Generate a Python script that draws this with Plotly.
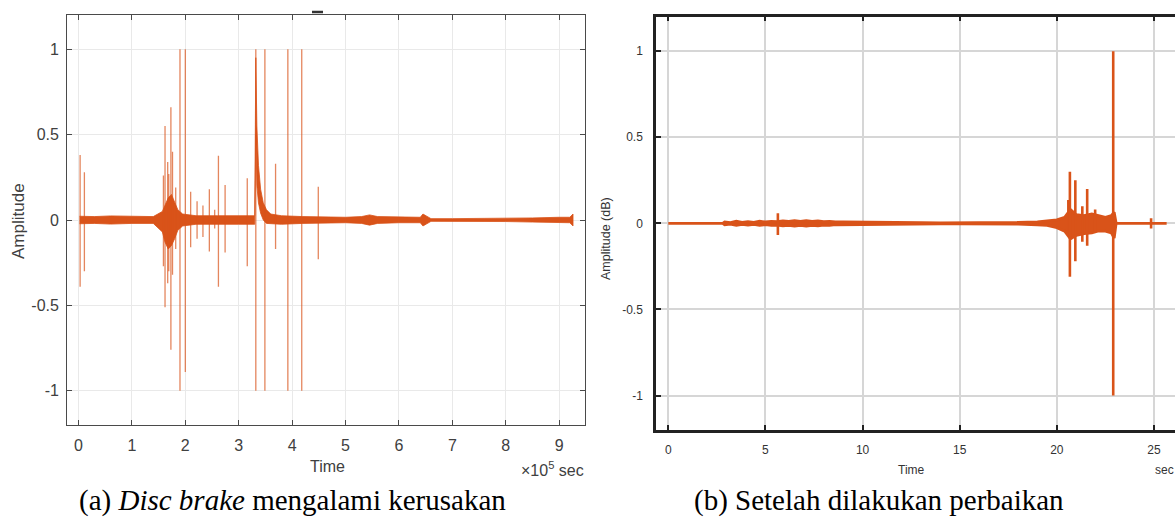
import plotly.graph_objects as go

W, H = 1175, 517

# ---------------- Panel (a): disc brake damaged (time in x10^5 sec) ----------------
spike_a_x   = [0.03, 0.11, 1.59, 1.62, 1.67, 1.69, 1.73, 1.76, 1.82, 1.90, 2.00, 2.10, 2.22, 2.33,
               2.45, 2.55, 2.62, 2.745, 3.16, 3.32, 3.49, 3.69, 3.92, 4.18, 4.49]
spike_a_top = [0.38, 0.28, 0.26, 0.55, 0.34, 0.27, 0.66, 0.40, 0.19, 1.0, 1.0, 0.165, 0.11, 0.085,
               0.18, 0.06, 0.376, 0.205, 0.244, 1.0, 1.0, 0.33, 1.0, 1.0, 0.195]
spike_a_bot = [-0.39, -0.30, -0.27, -0.51, -0.37, -0.30, -0.76, -0.32, -0.17, -1.0, -0.89, -0.16, -0.11, -0.10,
               -0.185, -0.05, -0.39, -0.19, -0.27, -1.0, -1.0, -0.17, -1.0, -1.0, -0.23]

band_a_x  = [0.02, 0.3, 0.6, 1.0, 1.4, 1.57, 1.62, 1.68, 1.74, 1.80, 1.86, 1.95, 2.2, 2.6, 3.0, 3.30,
             3.32, 3.34, 3.37, 3.41, 3.46, 3.52, 3.60, 3.8, 4.2, 4.6, 5.0, 5.3, 5.45, 5.6, 6.0, 6.4,
             6.45, 6.6, 7.0, 7.5, 8.0, 8.5, 9.0, 9.2, 9.26]
band_a_hi = [0.022, 0.02, 0.024, 0.02, 0.02, 0.05, 0.09, 0.13, 0.15, 0.11, 0.06, 0.035, 0.025, 0.025, 0.025, 0.025,
             0.95, 0.55, 0.32, 0.18, 0.10, 0.06, 0.035, 0.025, 0.02, 0.016, 0.016, 0.02, 0.03, 0.02, 0.016, 0.016,
             0.035, 0.008, 0.008, 0.008, 0.009, 0.012, 0.016, 0.016, 0.035]
band_a_lo = [-0.022, -0.02, -0.024, -0.02, -0.02, -0.07, -0.13, -0.17, -0.15, -0.11, -0.06, -0.035, -0.025, -0.025, -0.025, -0.025,
             0.5, 0.2, 0.10, 0.04, 0.0, -0.02, -0.02, -0.025, -0.02, -0.016, -0.016, -0.02, -0.03, -0.02, -0.016, -0.016,
             -0.035, -0.008, -0.008, -0.008, -0.009, -0.012, -0.016, -0.016, -0.035]

a_xticks = [0, 1, 2, 3, 4, 5, 6, 7, 8, 9]
a_yticks = [-1, -0.5, 0, 0.5, 1]
a_yticklabels = ["-1", "-0.5", "0", "0.5", "1"]

# ---------------- Panel (b): after repair (time in sec) ----------------
spike_b_x   = [5.64, 20.59, 20.67, 20.95, 21.31, 21.56, 21.97, 22.9, 24.85]
spike_b_top = [0.058, 0.135, 0.30, 0.25, 0.10, 0.20, 0.08, 1.0, 0.03]
spike_b_bot = [-0.068, -0.05, -0.31, -0.22, -0.107, -0.13, -0.05, -1.0, -0.03]

band_b_x  = [0.0, 2.8, 2.9, 3.2, 3.5, 3.8, 4.1, 4.4, 4.7, 5.0, 5.3, 5.6, 5.9, 6.2, 6.5, 6.8, 7.1, 7.4, 7.7,
             8.0, 8.3, 8.6, 9.0, 10, 11, 12, 13, 14, 15, 16, 17, 18, 19, 19.5, 20.0, 20.4, 20.7, 21.0, 21.4,
             21.8, 22.1, 22.5, 22.8, 22.95, 23.05, 24.8, 25.65]
band_b_hi = [0.0, 0.0, 0.008, 0.004, 0.012, 0.006, 0.01, 0.006, 0.012, 0.008, 0.012, 0.01, 0.014, 0.012, 0.016,
             0.012, 0.016, 0.012, 0.014, 0.01, 0.012, 0.008, 0.008, 0.006, 0.004, 0.003, 0.004, 0.003, 0.003,
             0.003, 0.003, 0.005, 0.008, 0.012, 0.02, 0.035, 0.08, 0.05, 0.045, 0.055, 0.045, 0.035, 0.045,
             0.065, 0.0, 0.0, 0.0]
band_b_lo = [0.0, 0.0, -0.008, -0.004, -0.012, -0.006, -0.01, -0.006, -0.012, -0.008, -0.012, -0.01, -0.014, -0.012, -0.016,
             -0.012, -0.016, -0.012, -0.014, -0.01, -0.012, -0.008, -0.008, -0.006, -0.004, -0.003, -0.004, -0.003, -0.003,
             -0.003, -0.003, -0.005, -0.008, -0.012, -0.025, -0.045, -0.09, -0.07, -0.06, -0.055, -0.045, -0.045, -0.055,
             -0.085, 0.0, 0.0, 0.0]

b_xticks = [0, 5, 10, 15, 20, 25]
b_yticks = [-1, -0.5, 0, 0.5, 1]
b_yticklabels = ["-1", "-0.5", "0", "0.5", "1"]

ORANGE = "#D95319"


def spikes(xs, tops, bots):
    px, py = [], []
    for x, t, b in zip(xs, tops, bots):
        px += [x, x, None]
        py += [t, b, None]
    return px, py


fig = go.Figure()

# Panel (a)
fig.add_trace(go.Scatter(x=band_a_x + band_a_x[::-1], y=band_a_hi + band_a_lo[::-1],
                         fill="toself", fillcolor=ORANGE, line=dict(color=ORANGE, width=0.8),
                         mode="lines", xaxis="x", yaxis="y", hoverinfo="skip", showlegend=False))
sx, sy = spikes(spike_a_x, spike_a_top, spike_a_bot)
fig.add_trace(go.Scatter(x=sx, y=sy, mode="lines", line=dict(color="rgba(217,83,25,0.7)", width=1.3),
                         xaxis="x", yaxis="y", showlegend=False))

# Panel (b)
fig.add_trace(go.Scatter(x=band_b_x + band_b_x[::-1], y=band_b_hi + band_b_lo[::-1],
                         fill="toself", fillcolor=ORANGE, line=dict(color=ORANGE, width=2.8),
                         mode="lines", xaxis="x2", yaxis="y2", hoverinfo="skip", showlegend=False))
sx, sy = spikes(spike_b_x, spike_b_top, spike_b_bot)
fig.add_trace(go.Scatter(x=sx, y=sy, mode="lines", line=dict(color=ORANGE, width=2.6),
                         xaxis="x2", yaxis="y2", showlegend=False))

def px_x(v):
    return v / W

def px_y(v):
    return 1 - v / H

a_font = dict(family="Liberation Sans, Arial, sans-serif", size=16, color="#404040")
b_font = dict(family="Liberation Sans, Arial, sans-serif", size=12, color="#333333")

fig.update_layout(
    width=W, height=H, margin=dict(l=0, r=0, t=0, b=0),
    paper_bgcolor="white", plot_bgcolor="white", showlegend=False,
    xaxis=dict(domain=[px_x(67.3), px_x(585.3)], range=[-0.21, 9.49], anchor="y",
               tickvals=a_xticks, ticktext=[str(v) for v in a_xticks],
               showgrid=True, gridcolor="#e9e9e9", gridwidth=1, zeroline=False,
               showline=True, linecolor="#4a4a4a", linewidth=1.3, mirror="ticks",
               ticks="inside", ticklen=5, tickcolor="#4a4a4a", tickfont=a_font, ticklabelstandoff=6),
    yaxis=dict(domain=[px_y(425), px_y(15)], range=[-1.2, 1.2], anchor="x",
               tickvals=a_yticks, ticktext=a_yticklabels,
               showgrid=True, gridcolor="#e9e9e9", gridwidth=1, zeroline=False,
               showline=True, linecolor="#4a4a4a", linewidth=1.3, mirror="ticks",
               ticks="inside", ticklen=5, tickcolor="#4a4a4a", tickfont=a_font, ticklabelstandoff=4),
    xaxis2=dict(domain=[px_x(656), 1.0], range=[-0.633, 26.08], anchor="y2",
                tickvals=b_xticks, ticktext=[str(v) for v in b_xticks],
                showgrid=True, gridcolor="#d6d6d6", gridwidth=2, zeroline=False,
                showline=True, linecolor="#222222", linewidth=2.5, mirror="ticks",
                ticks="inside", ticklen=5, tickwidth=2, tickcolor="#222222", tickfont=b_font,
                ticklabelstandoff=7),
    yaxis2=dict(domain=[px_y(430), px_y(16.7)], range=[-1.2, 1.2], anchor="x2",
                tickvals=b_yticks, ticktext=b_yticklabels,
                showgrid=True, gridcolor="#d6d6d6", gridwidth=2, zeroline=False,
                showline=True, linecolor="#222222", linewidth=2.5, mirror=False,
                ticks="inside", ticklen=5, tickwidth=2, tickcolor="#222222", tickfont=b_font,
                ticklabelstandoff=8),
)

ann = []
# Panel (a) labels
ann.append(dict(text="Time", x=px_x(327), y=px_y(466), xref="paper", yref="paper",
                showarrow=False, font=dict(family="Liberation Sans, Arial", size=16, color="#404040"),
                xanchor="center", yanchor="middle"))
ann.append(dict(text="\u00d710<sup>5</sup> sec", x=px_x(586), y=px_y(469), xref="paper", yref="paper",
                showarrow=False, font=dict(family="Liberation Sans, Arial", size=16, color="#404040"),
                xanchor="right", yanchor="middle"))
ann.append(dict(text="Amplitude", x=px_x(18), y=px_y(221), xref="paper", yref="paper", textangle=-90,
                showarrow=False, font=dict(family="Liberation Sans, Arial", size=17, color="#404040"),
                xanchor="center", yanchor="middle"))
ann.append(dict(text="(a) <i>Disc brake</i> mengalami kerusakan", x=px_x(292), y=px_y(500),
                xref="paper", yref="paper", showarrow=False,
                font=dict(family="Liberation Serif, Times New Roman, serif", size=29, color="black"),
                xanchor="center", yanchor="middle"))
# Panel (b) labels
ann.append(dict(text="Time", x=px_x(911), y=px_y(470), xref="paper", yref="paper",
                showarrow=False, font=dict(family="Liberation Sans, Arial", size=12, color="#333333"),
                xanchor="center", yanchor="middle"))
ann.append(dict(text="sec", x=px_x(1153), y=px_y(470), xref="paper", yref="paper",
                showarrow=False, font=dict(family="Liberation Sans, Arial", size=12, color="#333333"),
                xanchor="left", yanchor="middle"))
ann.append(dict(text="Amplitude (dB)", x=px_x(606), y=px_y(239), xref="paper", yref="paper", textangle=-90,
                showarrow=False, font=dict(family="Liberation Sans, Arial", size=12.5, color="#333333"),
                xanchor="center", yanchor="middle"))
ann.append(dict(text="(b) Setelah dilakukan perbaikan", x=px_x(879), y=px_y(500),
                xref="paper", yref="paper", showarrow=False,
                font=dict(family="Liberation Serif, Times New Roman, serif", size=29, color="black"),
                xanchor="center", yanchor="middle"))
fig.update_layout(annotations=ann)

# small clipped title mark above panel (a)
fig.add_shape(type="line", xref="paper", yref="paper", x0=px_x(312), x1=px_x(323),
              y0=px_y(12), y1=px_y(12), line=dict(color="#333333", width=2.5))

fig.write_html("out.html")
